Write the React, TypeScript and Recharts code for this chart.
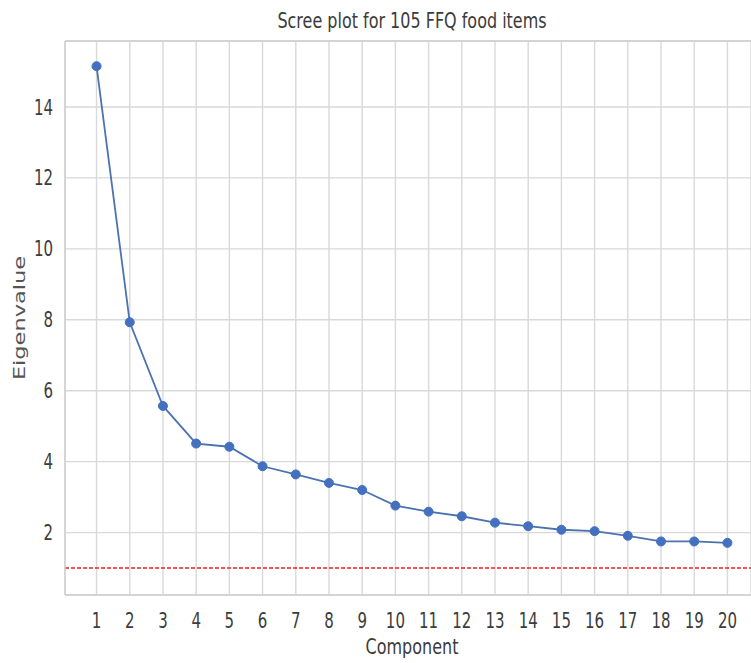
import { LineChart, Line, XAxis, YAxis, CartesianGrid, ReferenceLine } from 'recharts'

const components = [1, 2, 3, 4, 5, 6, 7, 8, 9, 10, 11, 12, 13, 14, 15, 16, 17, 18, 19, 20]
const eigenvalues = [
  15.15, 7.93, 5.57, 4.51, 4.42, 3.87, 3.64, 3.4, 3.2, 2.76,
  2.59, 2.46, 2.28, 2.18, 2.08, 2.04, 1.91, 1.75, 1.75, 1.71,
]
const yTicks = [2, 4, 6, 8, 10, 12, 14]
const kaiserCutoff = 1

const data = components.map((c, i) => ({ component: c, eigenvalue: eigenvalues[i] }))

const FONT = 'DejaVu Sans, Verdana, sans-serif'
const TEXT = '#3c3c3c'
const GRID = '#d9d9d9'
const Y_MIN = 0.24
const Y_MAX = 15.86

const XTick = (props: any) => {
  const { x, y, payload } = props
  return (
    <g transform={`translate(${x},${y}) scale(1,1.4)`}>
      <text textAnchor="middle" dy="0.72em" fontSize={15} fontFamily={FONT} fill={TEXT}>
        {payload.value}
      </text>
    </g>
  )
}

const YTick = (props: any) => {
  const { x, y, payload } = props
  return (
    <g transform={`translate(${x},${y}) scale(1,1.4)`}>
      <text textAnchor="end" dy="0.36em" fontSize={15} fontFamily={FONT} fill={TEXT}>
        {payload.value}
      </text>
    </g>
  )
}

const YLabel = (props: any) => {
  const { viewBox } = props
  const cy = viewBox.y + viewBox.height / 2
  return (
    <text
      transform={`translate(20,${cy}) rotate(-90) scale(1.5,1)`}
      textAnchor="middle"
      dominantBaseline="central"
      fontSize={15}
      fontFamily={FONT}
      fill="#555"
    >
      Eigenvalue
    </text>
  )
}

// axis title sits right at the bottom edge, keep it just inside
const XLabel = () => (
  <g transform="translate(412,639) scale(1,1.3)">
    <text textAnchor="middle" dy="0.74em" fontSize={16} fontFamily={FONT} fill={TEXT}>
      Component
    </text>
  </g>
)

export default function App() {
  return (
    <div style={{ position: 'absolute', left: 0, top: 0, width: 751, height: 663, background: '#fff' }}>
      <LineChart width={751} height={663} data={data} margin={{ top: 41, right: 0, bottom: 0, left: 0 }}>
        <CartesianGrid stroke={GRID} strokeWidth={1.4} />
        <XAxis
          dataKey="component"
          type="number"
          domain={[0.05, 20.71]}
          ticks={components}
          interval={0}
          allowDataOverflow
          height={68}
          tickLine={false}
          tickSize={0}
          tickMargin={18}
          axisLine={{ stroke: '#cfcfcf', strokeWidth: 1.4 }}
          tick={<XTick />}
          label={{ content: <XLabel /> }}
        />
        <YAxis
          type="number"
          domain={[Y_MIN, Y_MAX]}
          ticks={yTicks}
          allowDataOverflow
          width={65}
          tickLine={false}
          tickSize={0}
          tickMargin={12}
          axisLine={{ stroke: '#cfcfcf', strokeWidth: 1.4 }}
          tick={<YTick />}
          label={{ content: <YLabel /> }}
        />
        <ReferenceLine y={Y_MAX} stroke="#cfcfcf" strokeWidth={1.4} />
        <ReferenceLine y={kaiserCutoff} stroke="#f02020" strokeWidth={1.6} strokeDasharray="4 2" />
        <Line
          type="linear"
          dataKey="eigenvalue"
          stroke="#4C72B0"
          strokeWidth={1.8}
          dot={{ r: 4.5, fill: '#4470c0', stroke: '#4470c0', strokeWidth: 1 }}
          activeDot={false}
          isAnimationActive={false}
        />
        <g transform="translate(412,12) scale(1,1.37)">
          <text textAnchor="middle" dy="0.73em" fontSize={16} fontFamily={FONT} fill={TEXT}>
            Scree plot for 105 FFQ food items
          </text>
        </g>
      </LineChart>
    </div>
  )
}
